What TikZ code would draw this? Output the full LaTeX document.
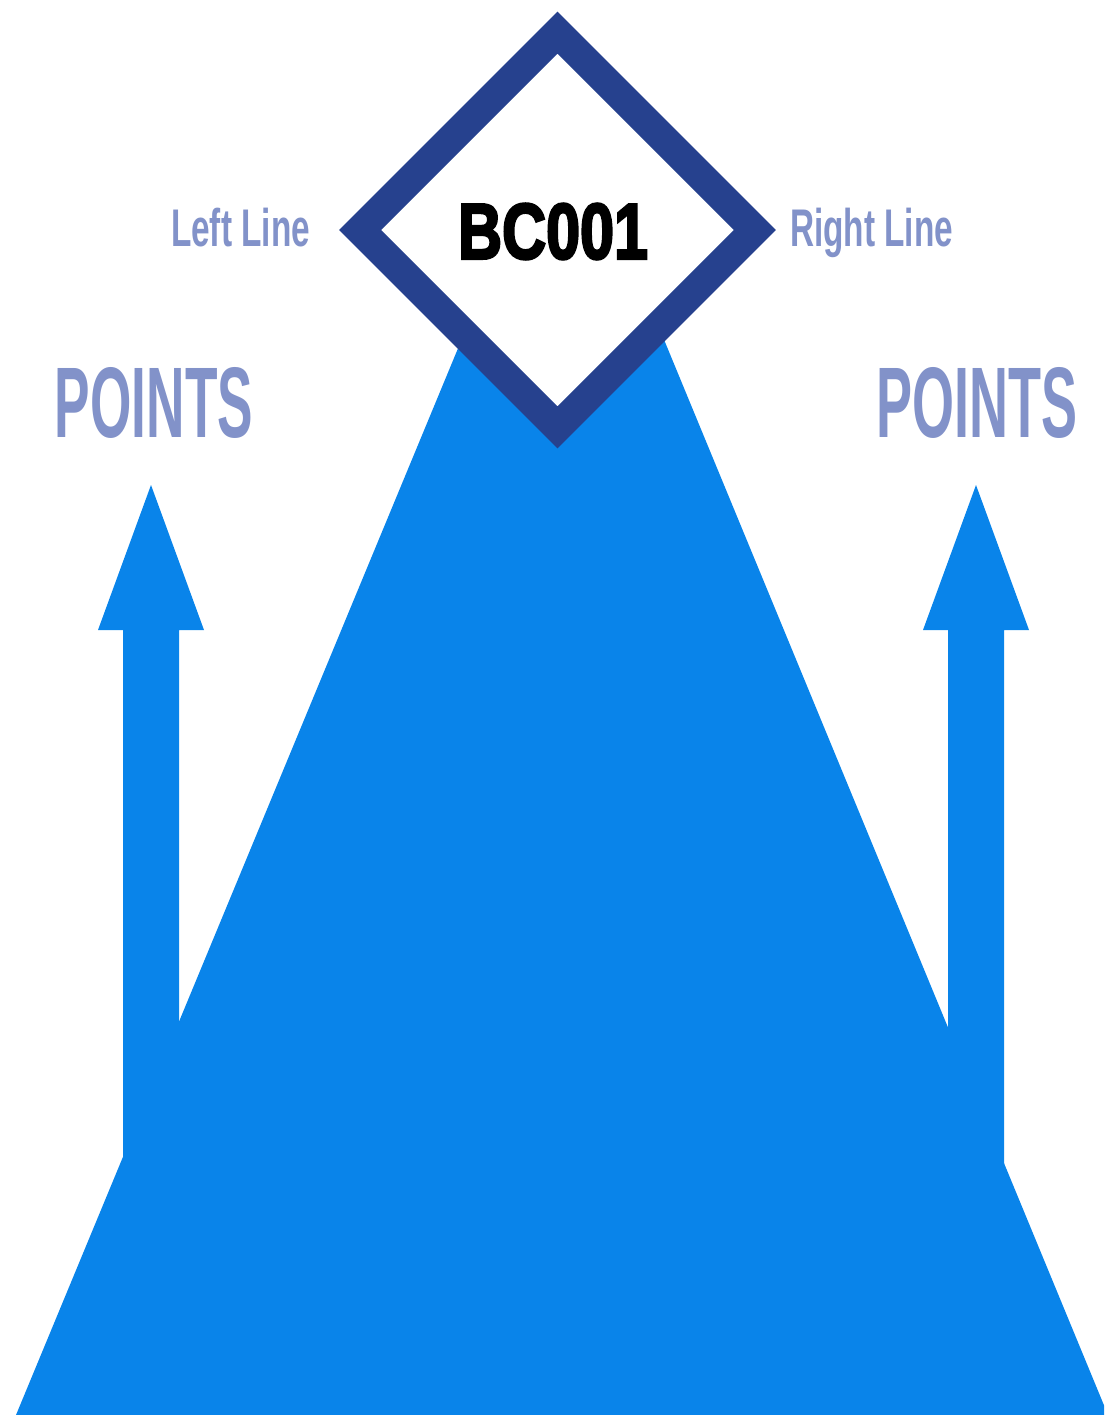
\documentclass[tikz,border=0pt]{standalone}
\usepackage{fontspec}
\setmainfont{Liberation Sans}
\newfontfamily\heavyfont[FakeBold=3.5]{Liberation Sans Bold}
\newfontfamily\medfont{Liberation Sans Bold}
\usetikzlibrary{shapes.geometric}
\definecolor{mainblue}{HTML}{0984EA}
\definecolor{darkblue}{HTML}{26418E}
\definecolor{labelblue}{HTML}{8292C9}
\tikzset{
  blueshape/.style={fill=mainblue, draw=none},
  sidelabel/.style={inner sep=0pt, outer sep=0pt, text=labelblue, anchor=base west},
  pointslabel/.style={inner sep=0pt, outer sep=0pt, text=labelblue, anchor=north},
  codelabel/.style={inner sep=0pt, outer sep=0pt, text=black},
  badge/.style={diamond, aspect=1, draw=darkblue, fill=white, line width=29.7pt,
    line join=miter, minimum width=407pt, minimum height=407pt, inner sep=0pt}
}
\begin{document}
\begin{tikzpicture}[x=1pt, y=-1pt]
\useasboundingbox (0,0) rectangle (1104,1415);
\clip (0,0) rectangle (1104,1415);
% big triangle
\fill[blueshape] (563,95) -- (16,1415) -- (1108,1415) -- cycle;
% left arrow
\fill[blueshape] (151,485) -- (204,630) -- (179,630) -- (179,1170) -- (123,1170) -- (123,630) -- (98,630) -- cycle;
% right arrow
\fill[blueshape] (976,485) -- (1029,630) -- (1004,630) -- (1004,1170) -- (948,1170) -- (948,630) -- (923,630) -- cycle;
% diamond badge
\node[badge] (badge) at (557.5,230) {};
\node[codelabel] (code) at (553,231.5) {\resizebox{190pt}{55pt}{\heavyfont BC001}};
% side labels
\node[sidelabel] (leftline) at (171,247) {\resizebox{139pt}{\height}{\fontsize{53}{60}\medfont Left Line}};
\node[sidelabel] (rightline) at (790,247) {\resizebox{163pt}{\height}{\fontsize{53}{60}\medfont Right Line}};
% points labels
\node[pointslabel] (pointsL) at (154,367) {\resizebox{198pt}{70pt}{\medfont POINTS}};
\node[pointslabel] (pointsR) at (977,367) {\resizebox{201pt}{70pt}{\medfont POINTS}};
\end{tikzpicture}
\end{document}
